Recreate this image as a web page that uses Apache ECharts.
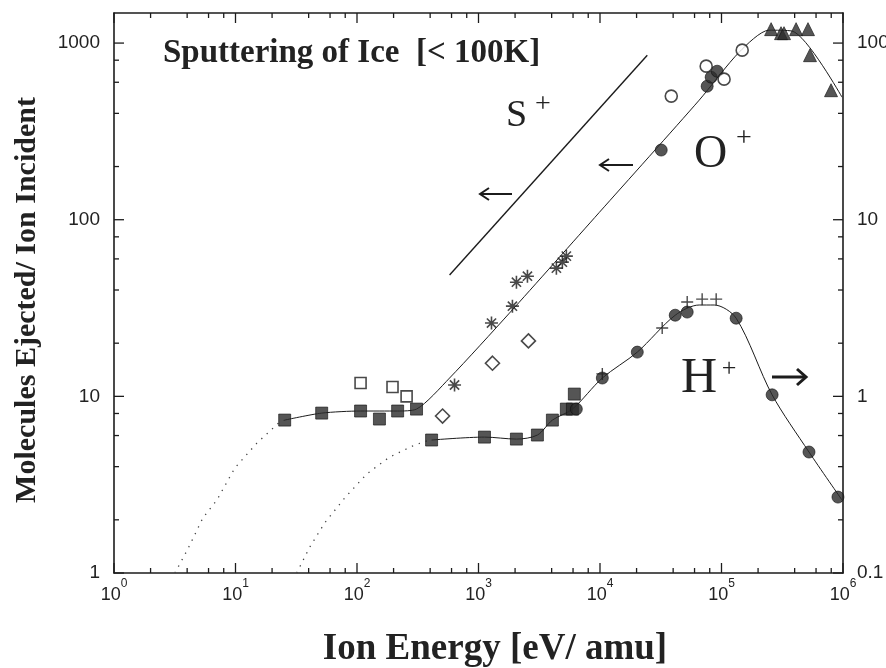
<!DOCTYPE html>
<html><head><meta charset="utf-8">
<script src="https://cdn.jsdelivr.net/npm/echarts@6/dist/echarts.min.js"></script>
<style>html,body{margin:0;padding:0;background:#fff}#c{width:886px;height:668px}</style>
</head><body><div id="c"></div>
<script>
// ---- tick labels ----
const xTickExponents = ['0','1','2','3','4','5','6'];
const leftTickLabels = ['1','10','100','1000'];
const rightTickLabels = ['0.1','1','10','100'];
const minorMultipliers = [2,4,6,8];

// ---- O+ / S+ (left axis: molecules per ion) ----
const oSquaresFilled = [[25.4,7.34],[51.2,8.04],[107,8.26],[153,7.44],[216,8.26],[309,8.47]];
const oSquaresOpen = [[107,11.9],[196,11.3],[256,10.0]];
const oDiamonds = [[506,7.74],[1303,15.4],[2576,20.6]];
const oStars = [[635,11.6],[1279,26.0],[1902,32.4],[2052,44.3],[2528,47.9],[4375,53.2],[4900,57.5],[5286,62.2]];
const oCirclesFilled = [[31900,248],[76200,570],[82200,641],[92100,693]];
const oCirclesOpen = [[38600,501],[74800,740],[105000,625],[148000,912]];
const oTriangles = [[256000,1199],[309000,1138],[327000,1138],[411000,1199],[515000,1199],[535000,854],[797000,541]];
const oFit = [[25.4,7.34],[51.2,8.04],[107,8.26],[216,8.26],[309,8.47],[578,12.7],[1797,29.6],[9870,110],[65500,475],[140000,889],[246000,1183],[380000,1170],[981000,494]];
const oThreshold = [[3.17,1.0],[4.06,1.37],[5.39,2.05],[7.03,2.59],[9.87,3.93],[15.0,5.44],[23.1,7.16],[25.4,7.34]];
const sLine = [[578,48.6],[24500,854]];

// ---- H+ (right axis) ----
const hSquares = [[411,0.566],[1120,0.588],[2052,0.573],[3055,0.604],[4057,0.734],[5286,0.847],[5930,0.847],[6150,1.03]];
const hCircles = [[6385,0.847],[10450,1.27],[20270,1.78],[41600,2.88],[52200,3.00],[132000,2.77],[261000,1.02],[525000,0.484],[909000,0.269]];
const hPluses = [[10450,1.34],[32500,2.44],[52200,3.42],[69300,3.55],[90400,3.55]];
const hFit = [[411,0.566],[1120,0.588],[2052,0.573],[3055,0.604],[4057,0.734],[5930,0.847],[10450,1.27],[20270,1.78],[41600,2.88],[65500,3.29],[87100,3.29],[132000,2.77],[261000,1.02],[525000,0.484],[981000,0.259]];
const hThreshold = [[31.9,0.1],[40.8,0.14],[54.2,0.192],[79.2,0.266],[120,0.363],[185,0.453],[298,0.530],[395,0.566]];

// ---- minor/major tick values (decades x multipliers) ----
const xTickVals = [], yTickVals = [];
for (let e = 0; e <= 6; e++) { xTickVals.push([Math.pow(10,e), 1, 1]); if (e < 6) minorMultipliers.forEach(m => xTickVals.push([m*Math.pow(10,e), 1, 0])); }
for (let e = 0; e <= 3; e++) { yTickVals.push([1, Math.pow(10,e), 1]); minorMultipliers.forEach(m => { const v = m*Math.pow(10,e); if (v < 1480) yTickVals.push([1, v, 0]); }); }

const INK = '#1c1c1c';
const serif = '"Liberation Serif","DejaVu Serif",serif';
const sans = '"Liberation Sans",Arial,sans-serif';
const star = 'path://M0,-10L0,10M-10,0L10,0M-7.07,-7.07L7.07,7.07M-7.07,7.07L7.07,-7.07';
const plus = 'path://M0,-10L0,10M-10,0L10,0';

function isPow(v){ const l = Math.log10(v); return Math.abs(l - Math.round(l)) < 1e-6; }

const chart = echarts.init(document.getElementById('c'), null, {renderer:'canvas'});
const lineS = (name, data, yi, style, smooth) => ({name, type:'line', data, yAxisIndex:yi, symbol:'none', smooth: smooth||false, lineStyle:style, z:2, silent:true, animation:false});
const sc = (name, data, yi, symbol, size, filled, extra) => Object.assign({name, type:'scatter', data, yAxisIndex:yi, symbol, symbolSize:size, z:5, animation:false,
  itemStyle: filled ? {color:'#2a2a2a', borderColor:'#111', borderWidth:0.8} : {color:'#fff', borderColor:INK, borderWidth:1.6}}, extra||{});

chart.setOption({
  animation:false,
  backgroundColor:'#fff',
  grid:{left:114, right:43, top:13, bottom:95, containLabel:false, outerBoundsMode:'none'},
  xAxis:[
    {type:'log', logBase:10, min:1, max:1000000, position:'bottom',
     axisLine:{lineStyle:{color:INK, width:1.6}}, axisTick:{show:false}, splitLine:{show:false},
     axisLabel:{margin:5, color:'#222', formatter:v => isPow(v) ? '{b|10}{s|' + xTickExponents[Math.round(Math.log10(v))] + '}' : '',
       rich:{b:{fontFamily:sans, fontSize:18, color:'#222', lineHeight:26, verticalAlign:'bottom'}, s:{fontFamily:sans, fontSize:12, color:'#222', lineHeight:4, verticalAlign:'top'}}}},
    {type:'log', logBase:10, min:1, max:1000000, position:'top',
     axisLine:{lineStyle:{color:INK, width:1.6}}, axisTick:{show:false}, axisLabel:{show:false}, splitLine:{show:false}}
  ],
  yAxis:[
    {type:'log', logBase:10, min:1, max:1480, position:'left',
     axisLine:{lineStyle:{color:INK, width:1.6}}, axisTick:{show:false}, splitLine:{show:false},
     axisLabel:{margin:14, color:'#222', fontFamily:sans, fontSize:19, formatter:v => isPow(v) ? leftTickLabels[Math.round(Math.log10(v))] : ''}},
    {type:'log', logBase:10, min:0.1, max:148, position:'right',
     axisLine:{lineStyle:{color:INK, width:1.6}}, axisTick:{show:false}, splitLine:{show:false},
     axisLabel:{margin:14, color:'#222', fontFamily:sans, fontSize:19, formatter:v => isPow(v) ? rightTickLabels[Math.round(Math.log10(v))+1] : ''}}
  ],
  series:[
    {type:'custom', name:'xticks', data:xTickVals, silent:true, z:1, clip:false,
     renderItem:(params, api) => { const p = api.coord([api.value(0), 1]); const cs = params.coordSys; const L = api.value(2) ? 10 : 5;
       const bot = cs.y + cs.height, top = cs.y;
       return {type:'group', children:[
         {type:'line', shape:{x1:p[0], y1:bot, x2:p[0], y2:bot-L}, style:{stroke:INK, lineWidth:1.3}},
         {type:'line', shape:{x1:p[0], y1:top, x2:p[0], y2:top+L}, style:{stroke:INK, lineWidth:1.3}}]}; }},
    {type:'custom', name:'yticks', data:yTickVals, silent:true, z:1, clip:false,
     renderItem:(params, api) => { const p = api.coord([1, api.value(1)]); const cs = params.coordSys; const L = api.value(2) ? 10 : 5;
       const l = cs.x, r = cs.x + cs.width;
       return {type:'group', children:[
         {type:'line', shape:{x1:l, y1:p[1], x2:l+L, y2:p[1]}, style:{stroke:INK, lineWidth:1.3}},
         {type:'line', shape:{x1:r, y1:p[1], x2:r-L, y2:p[1]}, style:{stroke:INK, lineWidth:1.3}}]}; }},
    lineS('O+ threshold', oThreshold, 0, {color:'#444', width:1.3, type:[1.3,6]}),
    lineS('H+ threshold', hThreshold, 1, {color:'#444', width:1.3, type:[1.3,6]}),
    lineS('O+ fit', oFit, 0, {color:INK, width:1}, 0.25),
    lineS('H+ fit', hFit, 1, {color:INK, width:1}, 0.3),
    lineS('S+', sLine, 0, {color:INK, width:1.4}),
    sc('O+ squares', oSquaresFilled, 0, 'rect', 12, true),
    sc('O+ open squares', oSquaresOpen, 0, 'rect', 11, false),
    sc('O+ diamonds', oDiamonds, 0, 'diamond', 14, false),
    sc('O+ stars', oStars, 0, star, 13, false, {itemStyle:{color:'none', borderColor:INK, borderWidth:1.6}}),
    sc('O+ circles', oCirclesFilled, 0, 'circle', 12, true),
    sc('O+ open circles', oCirclesOpen, 0, 'circle', 12, false),
    sc('O+ triangles', oTriangles, 0, 'triangle', 13, true),
    sc('H+ squares', hSquares, 1, 'rect', 12, true),
    sc('H+ circles', hCircles, 1, 'circle', 12, true),
    sc('H+ plus', hPluses, 1, plus, 12, false, {itemStyle:{color:'none', borderColor:INK, borderWidth:1.4}})
  ],
  graphic:[
    {type:'text', x:163, y:53, style:{text:'Sputtering of Ice  [< 100K]', font:'bold 33px ' + serif, fill:'#222', textAlign:'left', textVerticalAlign:'middle'}},
    {type:'text', x:27, y:300, rotation:Math.PI/2, style:{text:'Molecules Ejected/ Ion Incident', font:'bold 30px ' + serif, fill:'#222', textAlign:'center', textVerticalAlign:'middle'}},
    {type:'text', x:495, y:649, style:{text:'Ion Energy [eV/ amu]', font:'bold 37px ' + serif, fill:'#222', textAlign:'center', textVerticalAlign:'middle'}},
    {type:'text', x:506, y:116, style:{text:'S', font:'38px ' + serif, fill:'#222', textAlign:'left', textVerticalAlign:'middle'}},
    {type:'text', x:543, y:105, style:{text:'+', font:'28px ' + serif, fill:'#222', textAlign:'center', textVerticalAlign:'middle'}},
    {type:'text', x:694, y:155, style:{text:'O', font:'46px ' + serif, fill:'#222', textAlign:'left', textVerticalAlign:'middle'}},
    {type:'text', x:744, y:139, style:{text:'+', font:'28px ' + serif, fill:'#222', textAlign:'center', textVerticalAlign:'middle'}},
    {type:'text', x:681, y:379, style:{text:'H', font:'50px ' + serif, fill:'#222', textAlign:'left', textVerticalAlign:'middle'}},
    {type:'text', x:729, y:369, style:{text:'+', font:'26px ' + serif, fill:'#222', textAlign:'center', textVerticalAlign:'middle'}},
    {type:'line', shape:{x1:512, y1:194, x2:481, y2:194}, style:{stroke:INK, lineWidth:2}},
    {type:'polyline', shape:{points:[[489,188],[480,194],[489,200]]}, style:{stroke:INK, lineWidth:2, fill:null}},
    {type:'line', shape:{x1:633, y1:165, x2:601, y2:165}, style:{stroke:INK, lineWidth:2}},
    {type:'polyline', shape:{points:[[609,159],[600,165],[609,171]]}, style:{stroke:INK, lineWidth:2, fill:null}},
    {type:'line', shape:{x1:772, y1:377, x2:805, y2:377}, style:{stroke:INK, lineWidth:3}},
    {type:'polyline', shape:{points:[[797,369],[806,377],[797,385]]}, style:{stroke:INK, lineWidth:3, fill:null}}
  ]
});
</script>
</body></html>
